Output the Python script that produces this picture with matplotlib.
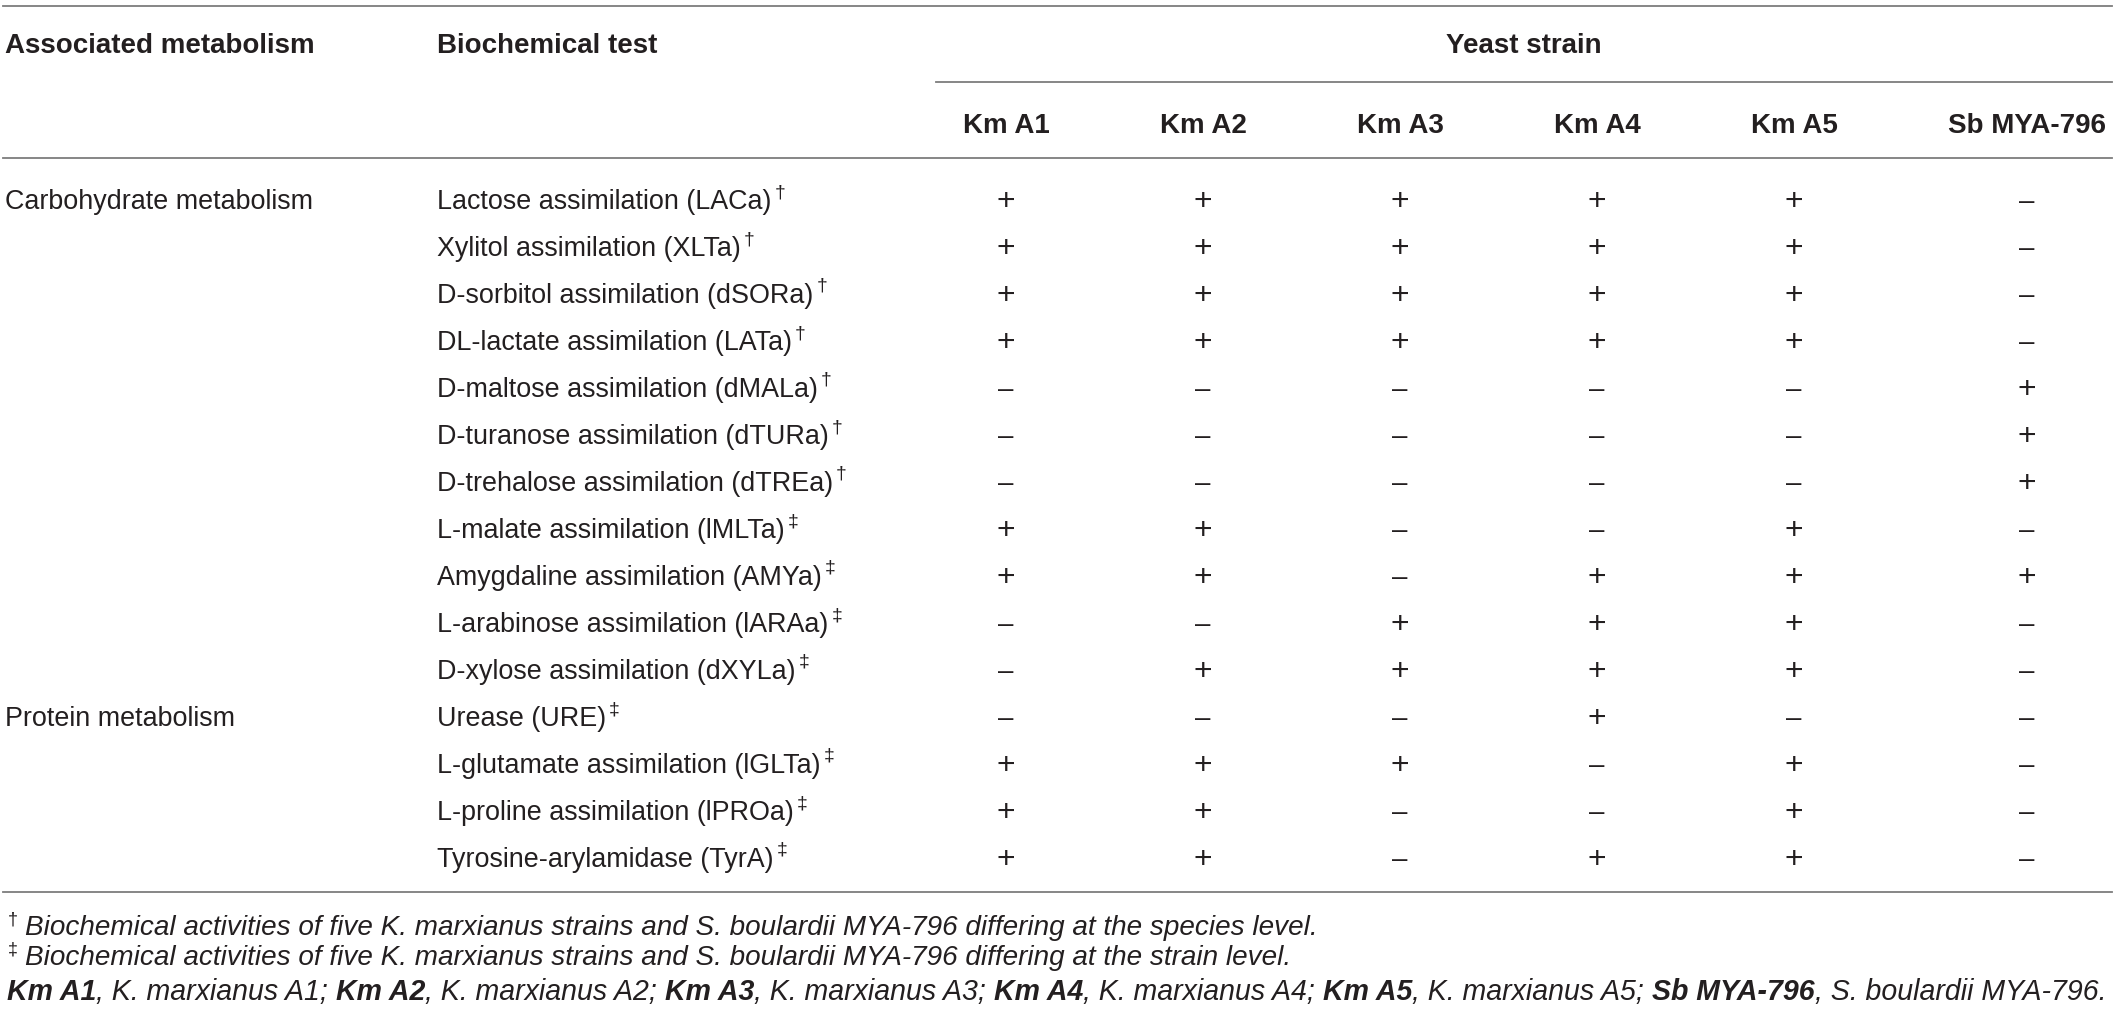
import matplotlib
matplotlib.use("Agg")
import matplotlib.pyplot as plt

# table content
strains = ["Km A1", "Km A2", "Km A3", "Km A4", "Km A5", "Sb MYA-796"]
categories = ["Carbohydrate metabolism", "Protein metabolism"]
category_start = [0, 11]   # row index where each category label sits
tests = [
    "Lactose assimilation (LACa)",
    "Xylitol assimilation (XLTa)",
    "D-sorbitol assimilation (dSORa)",
    "DL-lactate assimilation (LATa)",
    "D-maltose assimilation (dMALa)",
    "D-turanose assimilation (dTURa)",
    "D-trehalose assimilation (dTREa)",
    "L-malate assimilation (lMLTa)",
    "Amygdaline assimilation (AMYa)",
    "L-arabinose assimilation (lARAa)",
    "D-xylose assimilation (dXYLa)",
    "Urease (URE)",
    "L-glutamate assimilation (lGLTa)",
    "L-proline assimilation (lPROa)",
    "Tyrosine-arylamidase (TyrA)",
]
marks = ["†"] * 7 + ["‡"] * 8
results = [
    "+++++-",
    "+++++-",
    "+++++-",
    "+++++-",
    "-----+",
    "-----+",
    "-----+",
    "++--+-",
    "++-+++",
    "--+++-",
    "-++++-",
    "---+--",
    "+++-+-",
    "++--+-",
    "++-++-",
]
footnote_species = "Biochemical activities of five K. marxianus strains and S. boulardii MYA-796 differing at the species level."
footnote_strain = "Biochemical activities of five K. marxianus strains and S. boulardii MYA-796 differing at the strain level."
abbrev = [
    ("Km A1", "K. marxianus A1"),
    ("Km A2", "K. marxianus A2"),
    ("Km A3", "K. marxianus A3"),
    ("Km A4", "K. marxianus A4"),
    ("Km A5", "K. marxianus A5"),
    ("Sb MYA-796", "S. boulardii MYA-796"),
]

# layout (pixels)
W, H = 2118, 1019
ink = "#231f20"
rule = "#7d7d7d"
font = "Liberation Sans"
col_cat = 5
col_test = 437
col_strain = [1006, 1203, 1400, 1597, 1794, 2027]
row0, row_step = 199, 47

plt.rcParams["font.family"] = [font, "DejaVu Sans"]

fig = plt.figure(figsize=(W / 100, H / 100), dpi=100)
ax = fig.add_axes([0, 0, 1, 1])
ax.set_xlim(0, W)
ax.set_ylim(H, 0)
ax.axis("off")
renderer = fig.canvas.get_renderer()


def text_width(s, **kw):
    # width including spaces: measure between two bars
    t1 = ax.text(0, 0, "|" + s + "|", **kw)
    t2 = ax.text(0, 0, "||", **kw)
    w = t1.get_window_extent(renderer).width - t2.get_window_extent(renderer).width
    t1.remove()
    t2.remove()
    return w


def draw_runs(x, y, runs, draw=True):
    for s, kw in runs:
        if draw:
            ax.text(x, y, s, va="baseline", ha="left", color=ink, **kw)
        x += text_width(s, **kw)
    return x


# rules
ax.plot([3, 2112], [6, 6], color=rule, lw=1.3)
ax.plot([936, 2112], [82, 82], color=rule, lw=1.3)
ax.plot([3, 2112], [158, 158], color=rule, lw=1.3)
ax.plot([3, 2112], [892, 892], color=rule, lw=1.3)

hdr = dict(fontsize=20, fontweight="bold", color=ink, va="baseline")
ax.text(col_cat, 53, "Associated metabolism", ha="left", **hdr)
ax.text(col_test, 53, "Biochemical test", ha="left", **hdr)
ax.text(1524, 53, "Yeast strain", ha="center", **hdr)
for x, s in zip(col_strain, strains):
    ax.text(x, 133, s, ha="center", **hdr)

body = dict(fontsize=19.4, color=ink, va="baseline")
for i, (name, mk, res) in enumerate(zip(tests, marks, results)):
    yb = row0 + i * row_step + 10
    t = ax.text(col_test, yb, name, ha="left", **body)
    bb = t.get_window_extent(renderer)
    ax.text(bb.x1 + 3, yb - 12, mk, ha="left", fontsize=14, color=ink, va="baseline")
    for x, r in zip(col_strain, res):
        if r == "+":
            ax.text(x, yb + 1, "+", ha="center", fontsize=23, color=ink, va="baseline")
        else:
            ax.text(x, yb, "–", ha="center", fontsize=20, color=ink, va="baseline")

for name, start in zip(categories, category_start):
    ax.text(col_cat, row0 + start * row_step + 10, name, ha="left", **body)

# footnotes, sized to span the same width as in the source
fs = 18 * (1317 - 25) / text_width(footnote_species, fontsize=18, style="italic")
fn = dict(fontsize=fs, style="italic")
ax.text(8, 925, "†", fontsize=13, color=ink, va="baseline")
ax.text(25, 935, footnote_species, color=ink, va="baseline", **fn)
ax.text(8, 955, "‡", fontsize=13, color=ink, va="baseline")
ax.text(25, 965, footnote_strain, color=ink, va="baseline", **fn)


def abbrev_runs(size):
    runs = []
    for j, (code, full) in enumerate(abbrev):
        runs.append((code, dict(fontsize=size, style="italic", fontweight="bold")))
        end = "." if j == len(abbrev) - 1 else "; "
        runs.append((", " + full + end, dict(fontsize=size, style="italic")))
    return runs


w18 = draw_runs(0, 0, abbrev_runs(18), draw=False)
fs3 = 18 * (2109 - 7) / w18
draw_runs(7, 1000, abbrev_runs(fs3))

fig.savefig("out.png", dpi=100)
